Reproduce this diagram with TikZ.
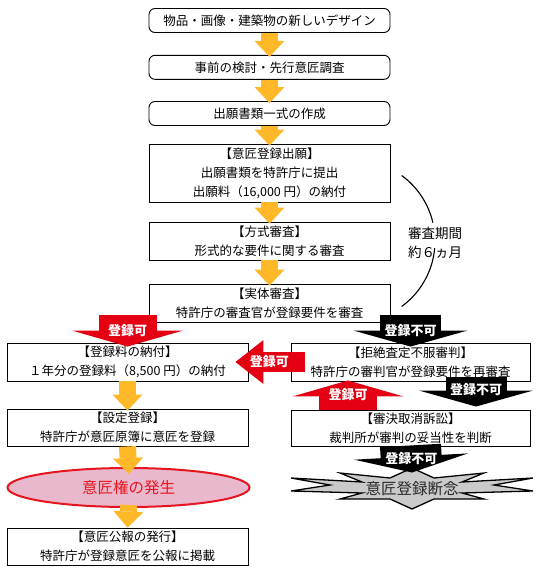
\documentclass[tikz,border=0pt]{standalone}
\usepackage{fontspec}
\setmainfont{Noto Sans CJK JP}
\usetikzlibrary{arrows.meta,calc,shapes.geometric}
\definecolor{flowor}{RGB}{255,184,40}
\definecolor{okred}{RGB}{228,0,18}
\definecolor{rightpink}{RGB}{234,184,204}
\definecolor{rightred}{RGB}{230,20,30}
\definecolor{burstgray}{RGB}{202,202,202}
\tikzset{
  boxfont/.style={font=\fontsize{12.5pt}{19pt}\selectfont},
  flowbox/.style={draw=black, line width=0.9pt, fill=white, minimum width=241pt,
    minimum height=38pt, inner sep=0pt, align=center, boxfont},
  roundbox/.style={flowbox, rounded corners=6pt, minimum height=24pt},
  rightoval/.style={ellipse, draw=rightred, line width=2pt, fill=rightpink,
    minimum width=242pt, minimum height=39pt, inner sep=0pt, text=rightred,
    font=\fontsize{15.5pt}{16pt}\selectfont},
  flowarrow/.style={draw=flowor, line width=17pt,
    -{Triangle[length=16pt,width=30pt,line width=0pt]}, shorten >=-2pt},
  okarrow/.style={draw=okred, line width=58pt,
    -{Triangle[length=16pt,width=111pt,line width=0pt]}},
  okarrowside/.style={draw=okred, line width=20pt,
    -{Triangle[length=28pt,width=44pt,line width=0pt]}},
  ngarrow/.style={draw=black, line width=61pt,
    -{Triangle[length=16pt,width=114pt,line width=0pt]}},
  arrowtext/.style={text=white, inner sep=0pt, font=\fontsize{13pt}{13pt}\selectfont\bfseries},
  burst/.style={draw=black, line width=1.3pt, fill=burstgray, line join=miter},
  bursttext/.style={inner sep=0pt, text=black!85, font=\fontsize{15.5pt}{16pt}\selectfont},
  periodtext/.style={inner sep=0pt, align=center, font=\fontsize{13.5pt}{19pt}\selectfont},
  periodarc/.style={draw=black, line width=1.1pt},
}
\begin{document}
\begin{tikzpicture}[x=1pt,y=-1pt]
\fill[white] (0,0) rectangle (539,573);
% application flow
\node[roundbox] (design) at (269.5,20.5) {物品・画像・建築物の新しいデザイン};
\node[roundbox] (survey) at (269.5,67.3) {事前の検討・先行意匠調査};
\node[roundbox] (docs) at (269.5,113.5) {出願書類一式の作成};
\node[flowbox, minimum height=58pt] (apply) at (269.5,173) {【意匠登録出願】\\出願書類を特許庁に提出\\出願料（16,000 円）の納付};
\node[flowbox] (formal) at (269.5,241) {【方式審査】\\形式的な要件に関する審査};
\node[flowbox] (exam) at (269.5,303) {【実体審査】\\特許庁の審査官が登録要件を審査};
% registration side
\node[flowbox] (fee) at (127.5,362) {【登録料の納付】\\１年分の登録料（8,500 円）の納付};
\node[flowbox, minimum height=37pt] (setreg) at (127.5,427.5) {【設定登録】\\特許庁が意匠原簿に意匠を登録};
\node[rightoval] (designright) at (128.5,487.5) {意匠権の発生};
\node[flowbox, minimum height=37pt] (gazette) at (127.5,546.5) {【意匠公報の発行】\\特許庁が登録意匠を公報に掲載};
% appeal side
\node[flowbox, minimum width=239pt] (appeal) at (410.5,362) {【拒絶査定不服審判】\\特許庁の審判官が登録要件を再審査};
\node[flowbox, minimum width=239pt, minimum height=36pt] (court) at (410.5,428) {【審決取消訴訟】\\裁判所が審判の妥当性を判断};
\begin{scope}[shift={(412,490)}]
\filldraw[burst] (0,-22) -- (22,-12) -- (72,-17) -- (50,-8) -- (121,-12) -- (82,-5)
  -- (121,1) -- (50,3) -- (72,9) -- (22,9) -- (0,19) -- (-22,9) -- (-72,9) -- (-50,3)
  -- (-121,1) -- (-82,-5) -- (-121,-12) -- (-50,-8) -- (-72,-17) -- (-22,-12) -- cycle;
\end{scope}
\node[bursttext] (giveup) at (412,488.5) {意匠登録断念};
% examination period
\node[periodtext] (period) at (435,242.5) {審査期間\\約６ヵ月};
\draw[periodarc] (354,241) ++(-54:81) arc[start angle=-54, end angle=-13, radius=81];
\draw[periodarc] (354,241) ++(5:81) arc[start angle=5, end angle=54, radius=81];
% connectors
\draw[flowarrow] (design.south) -- (survey.north);
\draw[flowarrow] (survey.south) -- (docs.north);
\draw[flowarrow] (docs.south) -- (apply.north);
\draw[flowarrow] (apply.south) -- (formal.north);
\draw[flowarrow] (formal.south) -- (exam.north);
\draw[flowarrow] (fee.south) -- (setreg.north);
\draw[flowarrow, shorten >=-7pt] (setreg.south) -- (designright.north);
\draw[flowarrow, shorten <=-3pt, shorten >=0pt] (designright.south) -- (gazette.north);
\draw[okarrow] ($(fee.north)+(0,-28)$) -- ($(fee.north)+(0,4)$)
  node[arrowtext, pos=0.5] {登録可};
\draw[ngarrow] ($(appeal.north)+(0,-28)$) -- ($(appeal.north)+(0,4)$)
  node[arrowtext, pos=0.5] {登録不可};
\draw[okarrowside] ($(appeal.west)+(14,0)$) -- ($(fee.east)+(-13,0)$)
  node[arrowtext, pos=0.51] {登録可};
\draw[ngarrow] ($(appeal.south)+(65.5,-4)$) -- ($(court.north)+(65.5,-3)$)
  node[arrowtext, pos=0.43] {登録不可};
\draw[okarrow] ($(court.north)+(-62.5,0)$) -- ($(appeal.south)+(-62.5,-1)$)
  node[arrowtext, pos=0.5] {登録可};
\draw[ngarrow] ($(court.south)+(0,-1)$) -- ($(giveup.center)+(0,-16)$)
  node[arrowtext, pos=0.5] {登録不可};
\end{tikzpicture}
\end{document}
